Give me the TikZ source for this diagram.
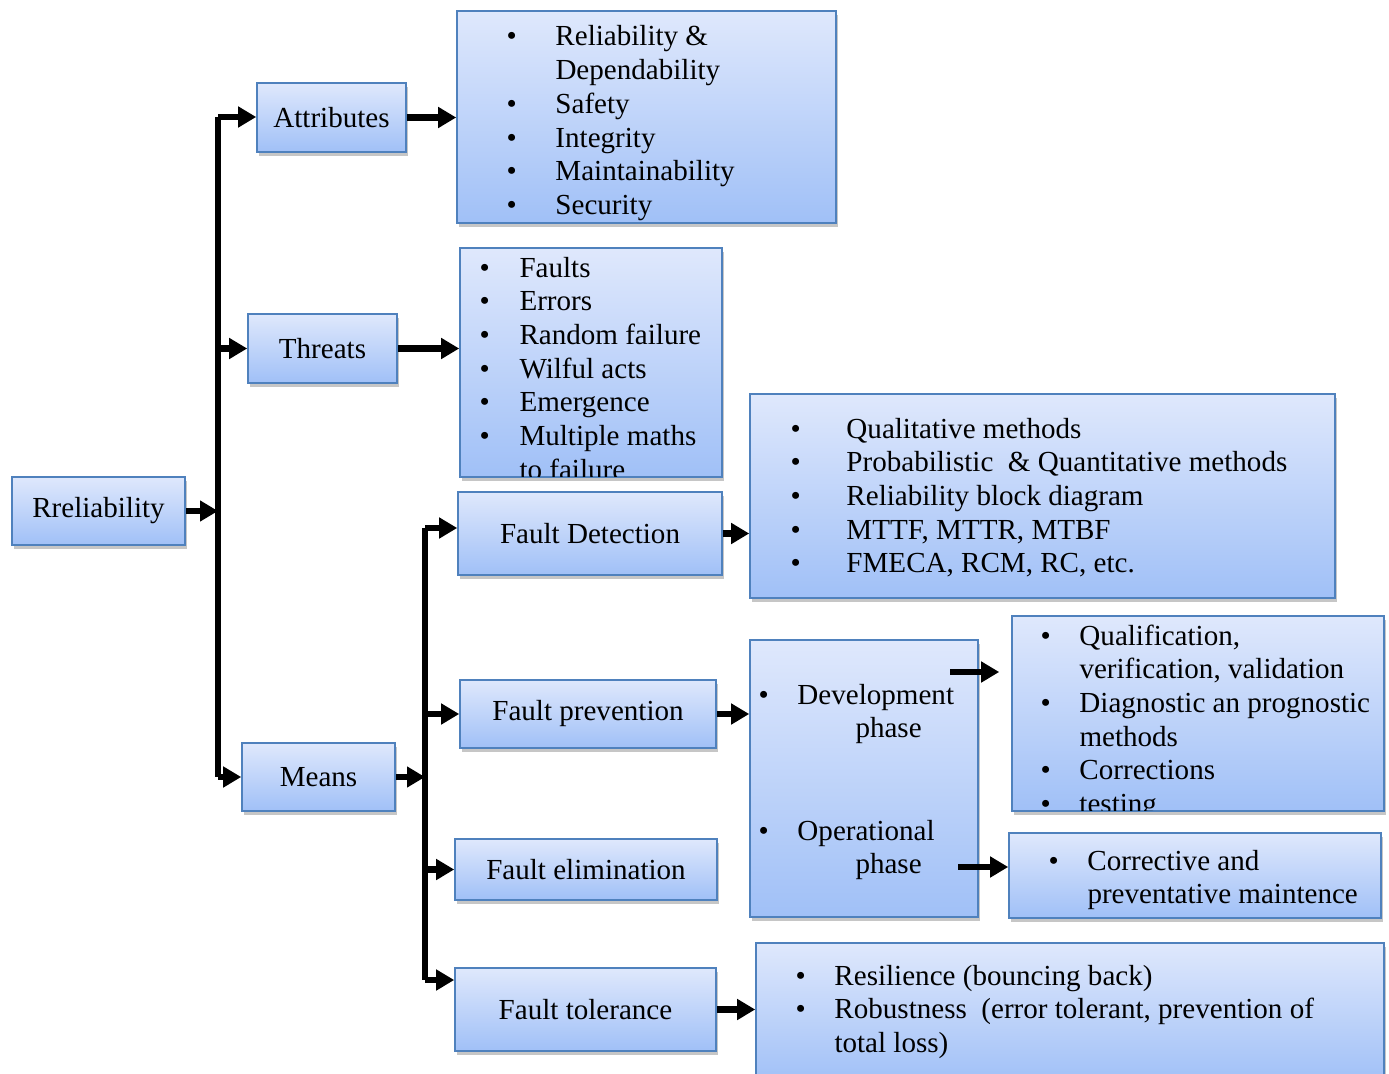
\documentclass[tikz,border=0pt]{standalone}
\usepackage{fontspec}
\setmainfont{Liberation Serif}
\usetikzlibrary{arrows.meta,shadows}

\definecolor{boxline}{RGB}{79,129,189}
\definecolor{boxtop}{RGB}{223,232,252}
\definecolor{boxbot}{RGB}{160,192,247}

\tikzset{every picture/.style={line width=0.75pt}}
\tikzset{
  blk/.style={draw=boxline, line width=1.2pt, top color=boxtop, bottom color=boxbot,
    drop shadow={shadow xshift=1.2pt, shadow yshift=-2.8pt, opacity=0.45},
    inner sep=0pt, font=\fontsize{21.8pt}{25.3pt}\selectfont},
  txt/.style={inner sep=0pt, anchor=base west, font=\fontsize{21.8pt}{25.3pt}\selectfont},
  bus/.style={line width=4.8pt},
  arr/.style={line width=4.8pt, -{Triangle[length=13.5pt,width=15pt]}},
}

\begin{document}
\begin{tikzpicture}[x=0.75pt,y=0.75pt,yscale=-1,xscale=1]
    \useasboundingbox (0,0) rectangle (1389,1074);

    %Shape: Rectangle [root]
    \node[blk, minimum width=129.75pt, minimum height=51pt] (rel) at (98.5,511) {Rreliability};

    %Shape: Rectangle [first level]
    \node[blk, minimum width=111.75pt, minimum height=51.75pt] (attr) at (331.5,117.5) {Attributes};
    \node[blk, minimum width=111.75pt, minimum height=51.75pt] (threats) at (322.5,348.5) {Threats};
    \node[blk, minimum width=114.75pt, minimum height=51pt] (means) at (318.5,777) {Means};

    %Shape: Rectangle [means]
    \node[blk, minimum width=198pt, minimum height=62.25pt] (fdet) at (590,533.5) {Fault Detection};
    \node[blk, minimum width=192pt, minimum height=51pt] (fprev) at (588,714) {Fault prevention};
    \node[blk, minimum width=196.5pt, minimum height=45.75pt] (felim) at (586,869.5) {Fault elimination};
    \node[blk, minimum width=195.75pt, minimum height=62.25pt] (ftol) at (585.5,1009.5) {Fault tolerance};

    %Shape: Rectangle [lists]
    \node[blk, minimum width=284.25pt, minimum height=159pt] (attrlist) at (646.5,117) {};
    \node[blk, minimum width=196.5pt, minimum height=171.75pt] (thrlist) at (591,362.5) {};
    \node[blk, minimum width=438.75pt, minimum height=153pt] (fdetlist) at (1042.5,496) {};
    \node[blk, minimum width=171pt, minimum height=207.75pt] (phases) at (864,778.5) {};
    \node[blk, minimum width=279pt, minimum height=146.25pt] (devlist) at (1198,713.5) {};
    \node[blk, minimum width=279pt, minimum height=63.75pt] (oplist) at (1195,875.5) {};
    \node[blk, minimum width=471pt, minimum height=105pt] (ftollist) at (1070,1013) {};

    % Text Node
    \node[txt] (attrtxt) at (506,46) {\begin{tabular}[t]{@{}p{36.75pt}@{}l@{}}
      \textbullet & Reliability \&\\
                  & Dependability\\
      \textbullet & Safety\\
      \textbullet & Integrity\\
      \textbullet & Maintainability\\
      \textbullet & Security
    \end{tabular}};
    % Text Node
    \begin{scope}
      \clip ([shift={(1,-1)}]thrlist.south west) rectangle ([shift={(-1,1)}]thrlist.north east);
      \node[txt] (thrtxt) at (479,277) {\begin{tabular}[t]{@{}p{30pt}@{}l@{}}
        \textbullet & Faults\\
        \textbullet & Errors\\
        \textbullet & Random failure\\
        \textbullet & Wilful acts\\
        \textbullet & Emergence\\
        \textbullet & Multiple maths\\
                    & to failure
      \end{tabular}};
    \end{scope}
    % Text Node
    \node[txt] (fdettxt) at (790,438) {\begin{tabular}[t]{@{}p{42pt}@{}l@{}}
      \textbullet & Qualitative methods\\
      \textbullet & Probabilistic~ \& Quantitative methods\\
      \textbullet & Reliability block diagram\\
      \textbullet & MTTF, MTTR, MTBF\\
      \textbullet & FMECA, RCM, RC, etc.
    \end{tabular}};
    % Text Node
    \node[txt] (devtxt) at (758,704) {\begin{tabular}[t]{@{}p{29.25pt}@{}l@{}}
      \textbullet & Development\\
                  & \hspace{43.5pt}phase
    \end{tabular}};
    % Text Node
    \node[txt] (optxt) at (758,840) {\begin{tabular}[t]{@{}p{29.25pt}@{}l@{}}
      \textbullet & Operational\\
                  & \hspace{43.5pt}phase
    \end{tabular}};
    % Text Node
    \begin{scope}
      \clip ([shift={(1,-1)}]devlist.south west) rectangle ([shift={(-1,1)}]devlist.north east);
      \node[txt] (devlisttxt) at (1040,645) {\begin{tabular}[t]{@{}p{29.25pt}@{}l@{}}
        \textbullet & Qualification,\\
                    & verification, validation\\
        \textbullet & Diagnostic an prognostic\\
                    & methods\\
        \textbullet & Corrections\\
        \textbullet & testing
      \end{tabular}};
    \end{scope}
    % Text Node
    \node[txt] (oplisttxt) at (1048,870) {\begin{tabular}[t]{@{}p{29.25pt}@{}l@{}}
      \textbullet & Corrective and\\
                  & preventative maintence
    \end{tabular}};
    % Text Node
    \node[txt] (ftoltxt) at (795,985) {\begin{tabular}[t]{@{}p{29.25pt}@{}l@{}}
      \textbullet & Resilience (bouncing back)\\
      \textbullet & Robustness~ (error tolerant, prevention of\\
                  & total loss)
    \end{tabular}};

    %Straight Lines [buses]
    \coordinate (bustop) at (218,117);
    \coordinate (busbot) at (218,777);
    \coordinate (mbustop) at (425,528);
    \coordinate (mbusbot) at (425,980);
    \draw[bus] (bustop) -- (busbot);
    \draw[bus] (mbustop) -- (mbusbot);

    %Straight Lines [arrows]
    \draw[arr] (rel.east) -- (rel.east -| bustop);
    \draw[arr] (bustop) -- (bustop -| attr.west);
    \draw[arr] (threats.west -| bustop) -- (threats.west);
    \draw[arr] (busbot) -- (busbot -| means.west);
    \draw[arr] (means.east) -- (means.east -| mbustop);
    \draw[arr] (mbustop) -- (mbustop -| fdet.west);
    \draw[arr] (fprev.west -| mbustop) -- (fprev.west);
    \draw[arr] (felim.west -| mbustop) -- (felim.west);
    \draw[arr] (mbusbot) -- (mbusbot -| ftol.west);
    \draw[arr] (attr.east) -- (attr.east -| attrlist.west);
    \draw[arr] (threats.east) -- (threats.east -| thrlist.west);
    \draw[arr] (fdet.east) -- (fdet.east -| fdetlist.west);
    \draw[arr] (fprev.east) -- (fprev.east -| phases.west);
    \draw[arr] (ftol.east) -- (ftol.east -| ftollist.west);
    \coordinate (devarr) at (950,672);
    \coordinate (oparr) at (958,867);
    \draw[arr, shorten >=9pt] (devarr) -- (devarr -| devlist.west);
    \draw[arr] (oparr) -- (oparr -| oplist.west);

\end{tikzpicture}
\end{document}
